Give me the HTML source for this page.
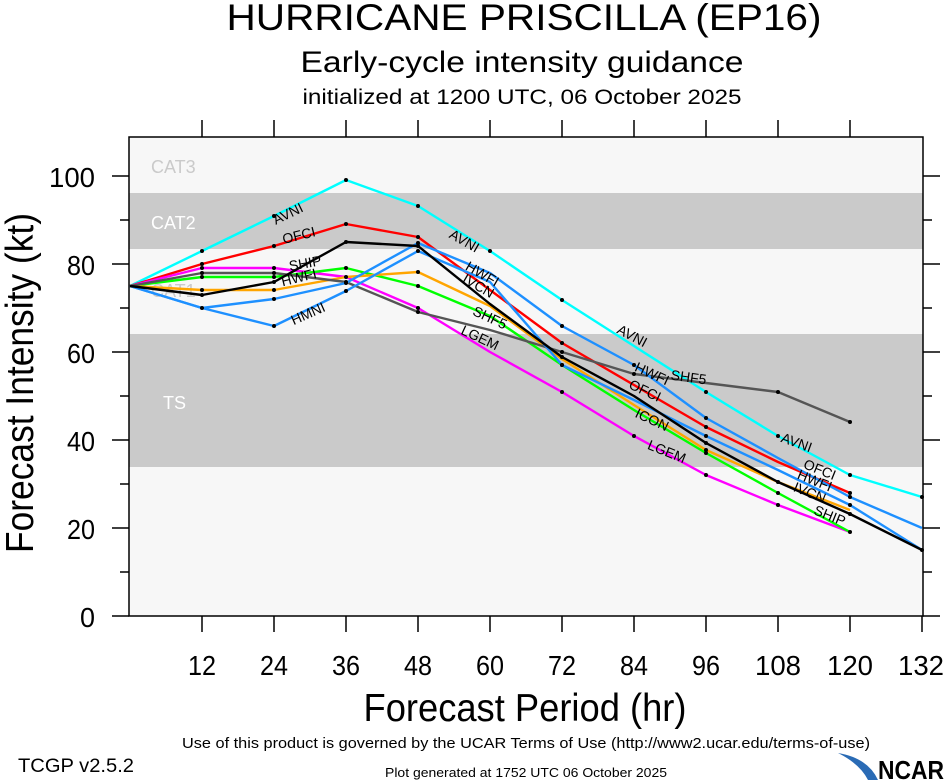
<!DOCTYPE html>
<html><head><meta charset="utf-8"><style>
html,body{margin:0;padding:0;background:#fff;}
svg{display:block;font-family:"Liberation Sans",sans-serif;}
</style></head><body>
<svg width="946" height="780" viewBox="0 0 946 780" xmlns="http://www.w3.org/2000/svg">
<rect width="946" height="780" fill="#fff"/>
<text x="524" y="30" font-size="37" text-anchor="middle" textLength="595" lengthAdjust="spacingAndGlyphs">HURRICANE PRISCILLA (EP16)</text>
<text x="522" y="72" font-size="30" text-anchor="middle" textLength="443" lengthAdjust="spacingAndGlyphs">Early-cycle intensity guidance</text>
<text x="522" y="104" font-size="21" text-anchor="middle" textLength="439" lengthAdjust="spacingAndGlyphs">initialized at 1200 UTC, 06 October 2025</text>

<rect x="129" y="137" width="794" height="479" fill="#f7f7f7"/>
<rect x="129" y="193" width="794" height="56" fill="#cacaca"/>
<rect x="129" y="334" width="794" height="133" fill="#cacaca"/>
<text x="151" y="173" font-size="18" fill="#cacaca">CAT3</text>
<text x="151" y="229" font-size="18" fill="#fff">CAT2</text>
<text x="151" y="297" font-size="18" fill="#cacaca">CAT1</text>
<text x="163" y="409" font-size="18" fill="#fff">TS</text>

<g fill="none" stroke-width="2.4" stroke-linejoin="round">
<polyline stroke="#00ffff" points="130,286 202,251 274,216 346,180 418,206 490,251 562,300 634,346 706,392 778,436 850,475 922,497"/>
<polyline stroke="#ff0000" points="130,286 202,264 274,246 346,224 418,237 490,290 562,343 634,385 706,427 778,462 850,493"/>
<polyline stroke="#ff00ff" points="130,286 202,268 274,268 346,277 418,308 490,352 562,392 634,436 706,475 778,505 850,532"/>
<polyline stroke="#00ff00" points="130,286 202,277 274,277 346,268 418,286 490,316 562,365 634,410 706,453 778,493 850,532"/>
<polyline stroke="#ffa500" points="130,286 202,290 274,290 346,277 418,272 490,306 562,359 634,405 706,450 778,482 850,510"/>
<polyline stroke="#555555" points="130,286 202,273 274,273 346,282 418,312 490,330 562,352 634,374 706,383 778,392 850,422"/>
<polyline stroke="#1e90ff" points="130,286 202,308 274,299 346,283 418,243 490,273 562,326 634,365 706,418 778,458 850,497 922,528"/>
<polyline stroke="#1e90ff" points="130,286 202,308 274,326 346,291 418,251 490,282 562,365 634,400 706,436 778,470 850,505 922,550"/>
<polyline stroke="#000000" points="130,286 202,295 274,282 346,242 418,246 490,304 562,357 634,396 706,443 778,482 850,514 922,550"/>
</g>
<g fill="#000">
<circle cx="202" cy="251" r="2"/><circle cx="274" cy="216" r="2"/><circle cx="346" cy="180" r="2"/><circle cx="418" cy="206" r="2"/><circle cx="490" cy="251" r="2"/><circle cx="562" cy="300" r="2"/><circle cx="706" cy="392" r="2"/><circle cx="778" cy="436" r="2"/><circle cx="850" cy="475" r="2"/>
<circle cx="202" cy="264" r="2"/><circle cx="274" cy="246" r="2"/><circle cx="346" cy="224" r="2"/><circle cx="418" cy="237" r="2"/><circle cx="562" cy="343" r="2"/><circle cx="706" cy="427" r="2"/><circle cx="850" cy="493" r="2"/>
<circle cx="202" cy="268" r="2"/><circle cx="274" cy="268" r="2"/><circle cx="418" cy="308" r="2"/><circle cx="562" cy="392" r="2"/><circle cx="634" cy="436" r="2"/><circle cx="706" cy="475" r="2"/><circle cx="778" cy="505" r="2"/><circle cx="850" cy="532" r="2"/>
<circle cx="202" cy="277" r="2"/><circle cx="274" cy="277" r="2"/><circle cx="346" cy="268" r="2"/><circle cx="418" cy="286" r="2"/><circle cx="562" cy="365" r="2"/><circle cx="706" cy="453" r="2"/><circle cx="778" cy="493" r="2"/>
<circle cx="202" cy="290" r="2"/><circle cx="274" cy="290" r="2"/><circle cx="346" cy="277" r="2"/><circle cx="418" cy="272" r="2"/><circle cx="706" cy="450" r="2"/>
<circle cx="202" cy="273" r="2"/><circle cx="274" cy="273" r="2"/><circle cx="346" cy="282" r="2"/><circle cx="418" cy="312" r="2"/><circle cx="562" cy="352" r="2"/><circle cx="634" cy="374" r="2"/><circle cx="778" cy="392" r="2"/><circle cx="850" cy="422" r="2"/>
<circle cx="202" cy="308" r="2"/><circle cx="274" cy="299" r="2"/><circle cx="346" cy="283" r="2"/><circle cx="418" cy="243" r="2"/><circle cx="562" cy="326" r="2"/><circle cx="634" cy="365" r="2"/><circle cx="706" cy="418" r="2"/><circle cx="850" cy="497" r="2"/>
<circle cx="274" cy="326" r="2"/><circle cx="346" cy="291" r="2"/><circle cx="418" cy="251" r="2"/><circle cx="562" cy="365" r="2"/><circle cx="706" cy="436" r="2"/><circle cx="850" cy="505" r="2"/>
<circle cx="202" cy="295" r="2"/><circle cx="274" cy="282" r="2"/><circle cx="346" cy="242" r="2"/><circle cx="418" cy="246" r="2"/><circle cx="562" cy="357" r="2"/><circle cx="706" cy="443" r="2"/><circle cx="778" cy="482" r="2"/><circle cx="850" cy="514" r="2"/><circle cx="922" cy="550" r="2"/><circle cx="922" cy="497" r="2"/>
</g>
<g font-size="14" fill="#000">
<text transform="translate(290,218) rotate(-26)" text-anchor="middle">AVNI</text>
<text transform="translate(300,240) rotate(-14)" text-anchor="middle">OFCI</text>
<text transform="translate(310,318) rotate(-24)" text-anchor="middle">HMNI</text>
<text transform="translate(300,282) rotate(-14)" text-anchor="middle">HWFI</text>
<text transform="translate(306,268) rotate(-10)" text-anchor="middle">SHIP</text>
<text transform="translate(462,245) rotate(30)" text-anchor="middle">AVNI</text>
<text transform="translate(480,278) rotate(30)" text-anchor="middle">HWFI</text>
<text transform="translate(476,290) rotate(30)" text-anchor="middle">IVCN</text>
<text transform="translate(488,322) rotate(25)" text-anchor="middle">SHF5</text>
<text transform="translate(478,342) rotate(25)" text-anchor="middle">LGEM</text>
<text transform="translate(630,340) rotate(28)" text-anchor="middle">AVNI</text>
<text transform="translate(650,378) rotate(25)" text-anchor="middle">HWFI</text>
<text transform="translate(688,382) rotate(8)" text-anchor="middle">SHF5</text>
<text transform="translate(643,395) rotate(25)" text-anchor="middle">OFCI</text>
<text transform="translate(650,424) rotate(25)" text-anchor="middle">ICON</text>
<text transform="translate(665,456) rotate(22)" text-anchor="middle">LGEM</text>
<text transform="translate(795,447) rotate(20)" text-anchor="middle">AVNI</text>
<text transform="translate(818,474) rotate(22)" text-anchor="middle">OFCI</text>
<text transform="translate(813,485) rotate(22)" text-anchor="middle">HWFI</text>
<text transform="translate(808,497) rotate(22)" text-anchor="middle">IVCN</text>
<text transform="translate(828,520) rotate(22)" text-anchor="middle">SHIP</text>
</g>

<rect x="129" y="137" width="794" height="479" fill="none" stroke="#000" stroke-width="1.5"/>
<g stroke="#000" stroke-width="1.5">
<line x1="202" y1="120" x2="202" y2="137"/><line x1="274" y1="120" x2="274" y2="137"/><line x1="346" y1="120" x2="346" y2="137"/><line x1="418" y1="120" x2="418" y2="137"/><line x1="490" y1="120" x2="490" y2="137"/><line x1="562" y1="120" x2="562" y2="137"/><line x1="634" y1="120" x2="634" y2="137"/><line x1="706" y1="120" x2="706" y2="137"/><line x1="778" y1="120" x2="778" y2="137"/><line x1="850" y1="120" x2="850" y2="137"/>
<line x1="202" y1="616" x2="202" y2="632"/><line x1="274" y1="616" x2="274" y2="632"/><line x1="346" y1="616" x2="346" y2="632"/><line x1="418" y1="616" x2="418" y2="632"/><line x1="490" y1="616" x2="490" y2="632"/><line x1="562" y1="616" x2="562" y2="632"/><line x1="634" y1="616" x2="634" y2="632"/><line x1="706" y1="616" x2="706" y2="632"/><line x1="778" y1="616" x2="778" y2="632"/><line x1="850" y1="616" x2="850" y2="632"/><line x1="922" y1="616" x2="922" y2="632"/>
<line x1="112" y1="616" x2="129" y2="616"/><line x1="112" y1="528" x2="129" y2="528"/><line x1="112" y1="440" x2="129" y2="440"/><line x1="112" y1="352" x2="129" y2="352"/><line x1="112" y1="264" x2="129" y2="264"/><line x1="112" y1="176" x2="129" y2="176"/>
<line x1="120" y1="572" x2="129" y2="572"/><line x1="120" y1="484" x2="129" y2="484"/><line x1="120" y1="396" x2="129" y2="396"/><line x1="120" y1="308" x2="129" y2="308"/><line x1="120" y1="220" x2="129" y2="220"/>
<line x1="923" y1="616" x2="940" y2="616"/><line x1="923" y1="528" x2="940" y2="528"/><line x1="923" y1="440" x2="940" y2="440"/><line x1="923" y1="352" x2="940" y2="352"/><line x1="923" y1="264" x2="940" y2="264"/><line x1="923" y1="176" x2="940" y2="176"/>
<line x1="923" y1="572" x2="932" y2="572"/><line x1="923" y1="484" x2="932" y2="484"/><line x1="923" y1="396" x2="932" y2="396"/><line x1="923" y1="308" x2="932" y2="308"/><line x1="923" y1="220" x2="932" y2="220"/>
</g>
<g font-size="28" text-anchor="end">
<text x="95" y="627" textLength="15" lengthAdjust="spacingAndGlyphs">0</text><text x="95" y="539" textLength="28" lengthAdjust="spacingAndGlyphs">20</text><text x="95" y="451" textLength="28" lengthAdjust="spacingAndGlyphs">40</text><text x="95" y="363" textLength="28" lengthAdjust="spacingAndGlyphs">60</text><text x="95" y="275" textLength="28" lengthAdjust="spacingAndGlyphs">80</text><text x="95" y="187" textLength="46" lengthAdjust="spacingAndGlyphs">100</text>
</g>
<g font-size="28" text-anchor="middle">
<text x="202" y="675" textLength="28" lengthAdjust="spacingAndGlyphs">12</text><text x="274" y="675" textLength="28" lengthAdjust="spacingAndGlyphs">24</text><text x="346" y="675" textLength="28" lengthAdjust="spacingAndGlyphs">36</text><text x="418" y="675" textLength="28" lengthAdjust="spacingAndGlyphs">48</text><text x="490" y="675" textLength="28" lengthAdjust="spacingAndGlyphs">60</text><text x="562" y="675" textLength="28" lengthAdjust="spacingAndGlyphs">72</text><text x="634" y="675" textLength="28" lengthAdjust="spacingAndGlyphs">84</text><text x="706" y="675" textLength="28" lengthAdjust="spacingAndGlyphs">96</text><text x="778" y="675" textLength="46" lengthAdjust="spacingAndGlyphs">108</text><text x="850" y="675" textLength="46" lengthAdjust="spacingAndGlyphs">120</text><text x="921" y="675" textLength="46" lengthAdjust="spacingAndGlyphs">132</text>
</g>
<text x="525" y="721" font-size="39" text-anchor="middle" textLength="323" lengthAdjust="spacingAndGlyphs">Forecast Period (hr)</text>
<text transform="translate(33,383) rotate(-90)" font-size="39" text-anchor="middle" textLength="340" lengthAdjust="spacingAndGlyphs">Forecast Intensity (kt)</text>
<text x="526" y="748" font-size="15" text-anchor="middle" textLength="688" lengthAdjust="spacingAndGlyphs">Use of this product is governed by the UCAR Terms of Use (http://www2.ucar.edu/terms-of-use)</text>
<text x="18" y="772" font-size="19" textLength="116" lengthAdjust="spacingAndGlyphs">TCGP v2.5.2</text>
<text x="526" y="777" font-size="13" text-anchor="middle" textLength="282" lengthAdjust="spacingAndGlyphs">Plot generated at 1752 UTC   06 October 2025</text>
<path d="M838,753 Q868,758 878,780 L868,780 Q860,764 838,753Z" fill="#2a6bb5"/>
<text x="878" y="779" font-size="26" font-weight="bold" fill="#000" textLength="66" lengthAdjust="spacingAndGlyphs">NCAR</text>
</svg>
</body></html>
